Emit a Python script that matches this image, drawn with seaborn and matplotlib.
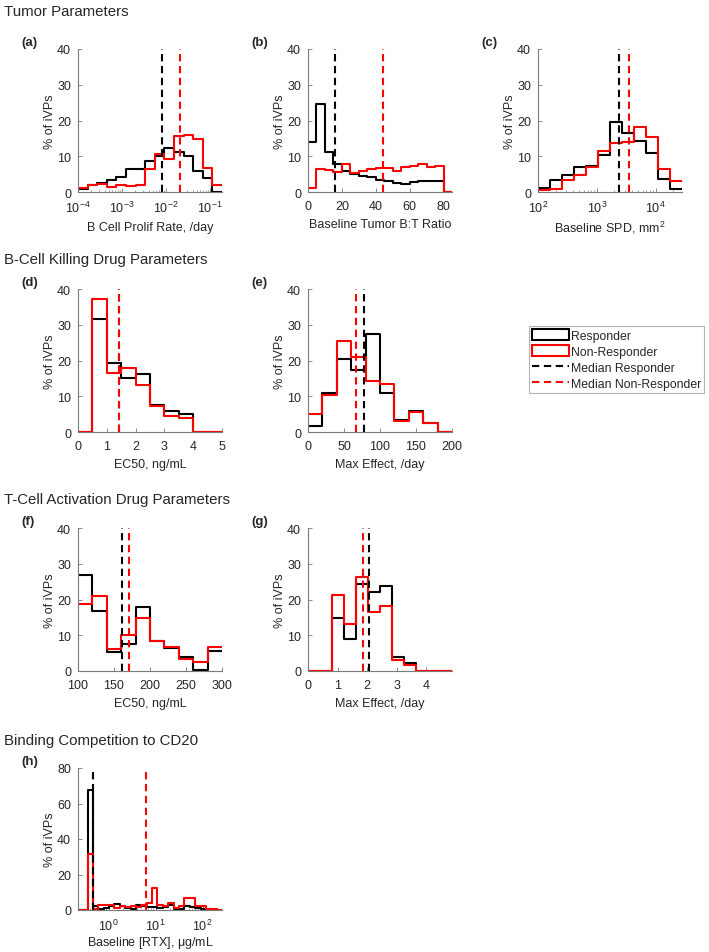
import numpy as np
import pandas as pd
import matplotlib
matplotlib.use('Agg')
import matplotlib.pyplot as plt
import seaborn as sns
from matplotlib.patches import Patch
from matplotlib.lines import Line2D

# ---- data: % of iVPs per bin (responder / non-responder) ----
# (a) B cell prolif rate, bin edges in log10
a_edges = [-4.0, -3.782, -3.564, -3.346, -3.128, -2.91, -2.692, -2.474, -2.256,
           -2.038, -1.82, -1.602, -1.384, -1.166, -0.948, -0.73]
a_resp = [0.9, 2.0, 2.6, 3.3, 4.1, 6.3, 6.5, 8.8, 10.0, 12.3, 11.3, 10.0, 5.9, 3.8, 0.0]
a_nonresp = [1.1, 1.9, 2.3, 1.4, 2.0, 1.8, 1.9, 6.5, 10.7, 9.3, 15.8, 16.0, 14.9, 6.7, 2.0]
a_med = [0.0079, 0.021]
a_ticks = [1e-4, 1e-3, 1e-2, 1e-1]

# (b) baseline tumor B:T ratio
b_edges = [0, 5, 10, 15, 20, 25, 30, 35, 40, 45, 50, 55, 60, 65, 70, 75, 80, 85]
b_resp = [14.0, 24.6, 11.2, 7.9, 5.8, 5.1, 4.6, 4.2, 3.3, 3.1, 2.6, 2.3, 2.8, 3.0, 3.0, 3.0, 0.0]
b_nonresp = [1.1, 6.5, 6.2, 5.6, 7.9, 5.4, 6.0, 6.3, 6.7, 6.7, 6.0, 7.0, 7.4, 7.9, 7.0, 7.4, 0.0]
b_med = [15.7, 44.0]
b_ticks = [0, 20, 40, 60, 80]

# (c) baseline SPD, bin edges in log10
c_edges = [2.0, 2.204, 2.408, 2.613, 2.817, 3.021, 3.225, 3.429, 3.633,
           3.838, 4.042, 4.246, 4.45]
c_resp = [1.1, 3.4, 4.7, 7.0, 7.2, 10.4, 19.7, 16.5, 14.4, 10.9, 3.7, 0.9]
c_nonresp = [0.5, 0.8, 3.3, 4.7, 7.1, 11.6, 13.7, 14.1, 18.3, 15.3, 6.5, 3.0]
c_med = [2430, 3600]
c_ticks = [1e2, 1e3, 1e4]

# (d) B-cell killing EC50
d_edges = [0, 0.5, 1.0, 1.5, 2.0, 2.5, 3.0, 3.5, 4.0, 4.5, 5.0]
d_resp = [0.0, 31.6, 19.3, 15.0, 16.2, 7.6, 5.9, 5.0, 0.0, 0.0]
d_nonresp = [0.0, 37.2, 16.6, 17.9, 13.2, 7.3, 4.5, 4.0, 0.0, 0.0]
d_med = [1.43, 1.44]
d_ticks = [0, 1, 2, 3, 4, 5]

# (e) B-cell killing max effect
e_edges = [0, 20, 40, 60, 80, 100, 120, 140, 160, 180, 200]
e_resp = [1.7, 10.8, 20.4, 17.4, 27.4, 10.8, 3.3, 5.9, 2.6, 0.0]
e_nonresp = [5.0, 10.3, 25.5, 21.0, 14.3, 13.3, 3.1, 5.6, 2.6, 0.0]
e_med = [77.8, 66.7]
e_ticks = [0, 50, 100, 150, 200]

# (f) T-cell activation EC50
f_edges = [100, 120, 140, 160, 180, 200, 220, 240, 260, 280, 300]
f_resp = [26.9, 16.9, 5.4, 7.6, 18.0, 8.4, 6.5, 3.9, 0.3, 5.6]
f_nonresp = [18.7, 21.1, 6.2, 10.2, 14.9, 8.3, 6.8, 3.3, 2.5, 6.7]
f_med = [161, 171]
f_ticks = [100, 150, 200, 250, 300]

# (g) T-cell activation max effect
g_edges = [0, 0.407, 0.813, 1.22, 1.627, 2.033, 2.44, 2.847, 3.253, 3.66,
           4.067, 4.473, 4.88]
g_resp = [0.0, 0.0, 14.8, 9.0, 24.4, 22.1, 23.9, 3.9, 2.3, 0.0, 0.0, 0.0]
g_nonresp = [0.0, 0.0, 21.3, 13.2, 26.3, 16.6, 18.3, 3.1, 1.8, 0.0, 0.0, 0.0]
g_med = [2.06, 1.85]
g_ticks = [0, 1, 2, 3, 4]

# (h) baseline [RTX], bin edges in log10
h_edges = [-0.65, -0.447, -0.333, -0.218, -0.104, 0.010, 0.125, 0.239, 0.353,
           0.468, 0.582, 0.696, 0.811, 0.925, 1.039, 1.154, 1.268, 1.382,
           1.497, 1.611, 1.725, 1.840, 1.954, 2.068, 2.182, 2.297, 2.411]
h_resp = [0.0, 67.4, 2.4, 0.8, 1.0, 2.0, 3.2, 2.5, 1.2, 0.8, 2.6, 2.4, 1.5,
          1.5, 1.0, 1.5, 2.8, 0.8, 0.8, 2.4, 1.8, 1.0, 0.5, 0.2, 0.0, 0.0]
h_nonresp = [0.0, 31.6, 0.8, 2.6, 2.6, 2.6, 1.0, 2.0, 1.5, 2.5, 1.5, 3.0, 4.0,
             12.5, 3.0, 2.5, 4.0, 1.0, 2.0, 7.0, 7.0, 2.2, 2.0, 0.5, 0.3, 0.0]
h_med = [0.47, 6.2]
h_ticks = [1, 10, 100]

section_titles = ['Tumor Parameters', 'B-Cell Killing Drug Parameters',
                  'T-Cell Activation Drug Parameters', 'Binding Competition to CD20']
legend_labels = ['Responder', 'Non-Responder', 'Median Responder', 'Median Non-Responder']

sns.set_theme(style='white')
plt.rcParams['font.family'] = ['Liberation Sans', 'DejaVu Sans']
plt.rcParams['mathtext.default'] = 'regular'

RESP_C = '#000000'
NONRESP_C = '#ff0000'
AX_C = '#7a7a7a'
TXT_C = '#262626'
W, H = 709, 953

fig = plt.figure(figsize=(W / 100, H / 100), dpi=100)


def add_panel(left, top, w=144, h=143):
    return fig.add_axes([left / W, 1 - (top + h) / H, w / W, h / H])


def draw_panel(ax, edges, resp, nonresp, med, xticks, log=False,
               yticks=(0, 10, 20, 30, 40), xlabel='', tag='', xpad=4.5):
    edges = np.asarray(edges, dtype=float)
    if log:
        edges = 10 ** edges
        centers = np.sqrt(edges[:-1] * edges[1:])
    else:
        centers = (edges[:-1] + edges[1:]) / 2
    for vals, c in [(resp, RESP_C), (nonresp, NONRESP_C)]:
        d = pd.DataFrame({'center': centers, 'pct': vals})
        sns.histplot(data=d, x='center', weights='pct', bins=list(edges),
                     element='step', fill=False, color=c, linewidth=1.5, ax=ax)
    for m, c in zip(med, [RESP_C, NONRESP_C]):
        ax.axvline(m, color=c, linestyle=(0, (3.5, 2.2)), linewidth=1.5)
    if log:
        ax.set_xscale('log')
    ax.set_xticks(xticks)
    ax.set_xlim(edges[0], edges[-1])
    ax.set_ylim(yticks[0], yticks[-1])
    ax.set_yticks(yticks)
    ax.set_xlabel(xlabel, fontsize=9, color=TXT_C, labelpad=xpad)
    ax.set_ylabel('% of iVPs', fontsize=9, color=TXT_C, labelpad=0.5)
    sns.despine(ax=ax)
    for s in ['left', 'bottom']:
        ax.spines[s].set_color(AX_C)
        ax.spines[s].set_linewidth(0.8)
    ax.tick_params(axis='both', which='major', direction='in', length=3,
                   width=0.6, color=AX_C, labelsize=9, labelcolor=TXT_C,
                   bottom=True, left=True)
    ax.tick_params(axis='x', which='major', pad=5.5)
    ax.tick_params(axis='y', which='major', pad=5)
    ax.tick_params(axis='x', which='minor', direction='in', length=1.8,
                   width=0.5, color=AX_C, bottom=True)
    ax.text(-0.39, 1.05, tag, transform=ax.transAxes, fontsize=9.5,
            fontweight='bold', color=TXT_C, ha='left', va='center')


ax = add_panel(78, 50)
draw_panel(ax, a_edges, a_resp, a_nonresp, a_med, a_ticks, log=True,
           xlabel='B Cell Prolif Rate, /day', tag='(a)')
ax = add_panel(308, 50)
draw_panel(ax, b_edges, b_resp, b_nonresp, b_med, b_ticks,
           xlabel='Baseline Tumor B:T Ratio', tag='(b)')
ax = add_panel(538, 50)
draw_panel(ax, c_edges, c_resp, c_nonresp, c_med, c_ticks, log=True,
           xlabel='Baseline SPD, mm$^2$', tag='(c)', xpad=2.5)

ax = add_panel(78, 290)
draw_panel(ax, d_edges, d_resp, d_nonresp, d_med, d_ticks,
           xlabel='EC50, ng/mL', tag='(d)')
ax = add_panel(308, 290)
draw_panel(ax, e_edges, e_resp, e_nonresp, e_med, e_ticks,
           xlabel='Max Effect, /day', tag='(e)')

ax = add_panel(78, 529)
draw_panel(ax, f_edges, f_resp, f_nonresp, f_med, f_ticks,
           xlabel='EC50, ng/mL', tag='(f)')
ax = add_panel(308, 529)
draw_panel(ax, g_edges, g_resp, g_nonresp, g_med, g_ticks,
           xlabel='Max Effect, /day', tag='(g)')

ax = add_panel(78, 769, h=142)
draw_panel(ax, h_edges, h_resp, h_nonresp, h_med, h_ticks, log=True,
           yticks=(0, 20, 40, 60, 80),
           xlabel='Baseline [RTX], $\\mu$g/mL', tag='(h)', xpad=0.5)

for title, y in zip(section_titles, [12, 260, 500, 741]):
    fig.text(4 / W, 1 - y / H, title, fontsize=10.8, color=TXT_C,
             ha='left', va='center')

handles = [Patch(facecolor='white', edgecolor=RESP_C, linewidth=1.5),
           Patch(facecolor='white', edgecolor=NONRESP_C, linewidth=1.5),
           Line2D([], [], color=RESP_C, linestyle=(0, (3.5, 2.2)), linewidth=1.5),
           Line2D([], [], color=NONRESP_C, linestyle=(0, (3.5, 2.2)), linewidth=1.5)]
leg = fig.legend(handles, legend_labels, loc='upper left',
                 bbox_to_anchor=(529 / W, 1 - 327 / H), fontsize=8.8,
                 frameon=True, fancybox=False, borderaxespad=0,
                 handlelength=3.0, handleheight=1.05, handletextpad=0.2,
                 labelspacing=0.25, borderpad=0.25)
leg.get_frame().set_edgecolor('#a0a0a0')
leg.get_frame().set_linewidth(0.8)
for t in leg.get_texts():
    t.set_color(TXT_C)

fig.savefig('out.png', dpi=100)
